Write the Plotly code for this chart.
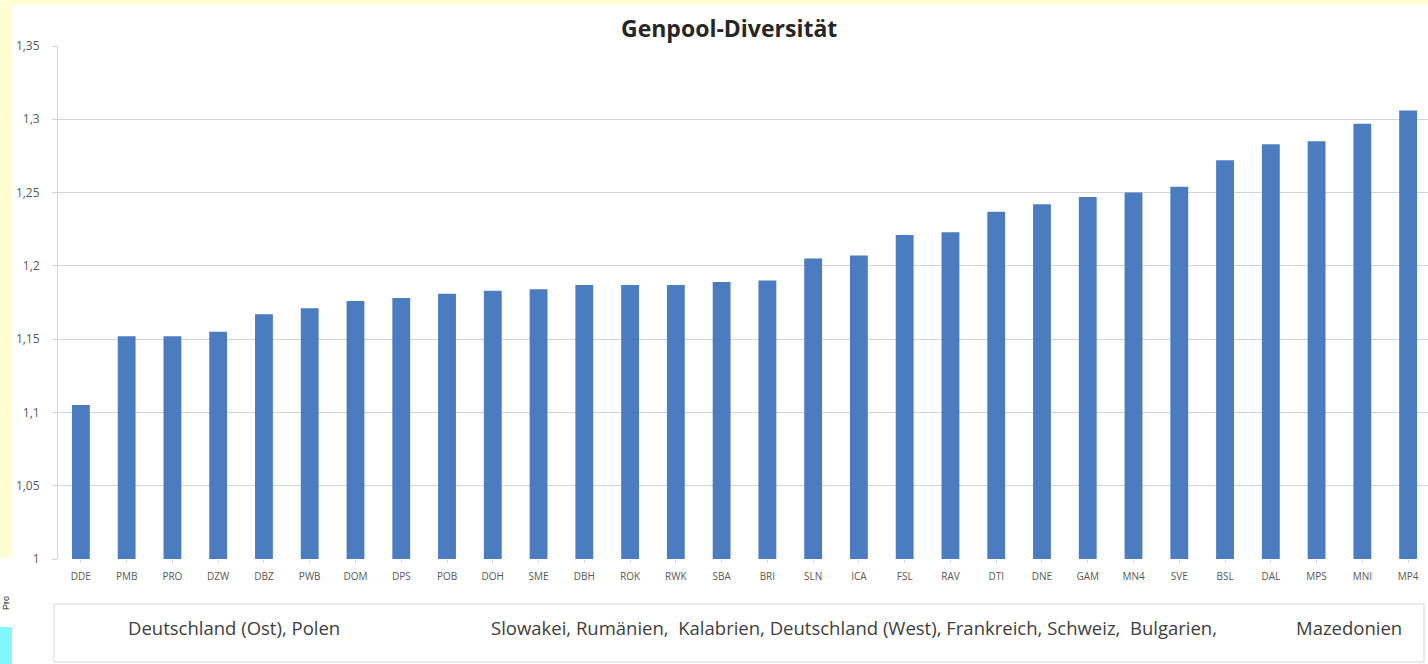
import plotly.graph_objects as go

# Gene-pool diversity per breeding population
populations = ["DDE", "PMB", "PRO", "DZW", "DBZ", "PWB", "DOM", "DPS", "POB", "DOH",
               "SME", "DBH", "ROK", "RWK", "SBA", "BRI", "SLN", "ICA", "FSL", "RAV",
               "DTI", "DNE", "GAM", "MN4", "SVE", "BSL", "DAL", "MPS", "MNI", "MP4"]
diversity = [1.105, 1.152, 1.152, 1.155, 1.167, 1.171, 1.176, 1.178, 1.181, 1.183,
             1.184, 1.187, 1.187, 1.187, 1.189, 1.190, 1.205, 1.207, 1.221, 1.223,
             1.237, 1.242, 1.247, 1.250, 1.254, 1.272, 1.283, 1.285, 1.297, 1.306]
y_ticks = [1.0, 1.05, 1.1, 1.15, 1.2, 1.25, 1.3, 1.35]
region_labels = ["Deutschland (Ost), Polen",
                 "Slowakei, Rumänien,  Kalabrien, Deutschland (West), Frankreich, Schweiz,  Bulgarien,",
                 "Mazedonien"]

W, H = 1428, 664
PL, PR, PT, PB = 58, 1428, 46, 559  # plot area in pixels


def px(x):
    return (x - PL) / (PR - PL)


def py(y):
    return (PB - y) / (PB - PT)


BAR = "#4a7cbf"
YELLOW = "#fffdd2"
FONT = "Open Sans"

fig = go.Figure(go.Bar(
    x=list(range(len(populations))), y=diversity,
    marker=dict(color=BAR, line=dict(width=0)),
    width=0.39,
))

step = (PR - PL + 3) / len(populations)
x_max = -0.5 + (PR - PL) / step

shapes = [
    # white chart sheet over the yellow page
    dict(type="rect", xref="paper", yref="paper", x0=px(12), x1=px(1428), y0=py(664), y1=py(5),
         fillcolor="white", line=dict(width=0), layer="below"),
    dict(type="rect", xref="paper", yref="paper", x0=px(0), x1=px(12), y0=py(627), y1=py(557),
         fillcolor="white", line=dict(width=0), layer="below"),
    dict(type="rect", xref="paper", yref="paper", x0=px(0), x1=px(12), y0=py(664), y1=py(627),
         fillcolor="#80f6ff", line=dict(width=0), layer="below"),
    # region label box
    dict(type="rect", xref="paper", yref="paper", x0=px(54), x1=px(1424), y0=py(662), y1=py(604),
         fillcolor="white", line=dict(color="#d6d6d6", width=1)),
]

label_font = dict(family=FONT, size=18.5, color="#404040")
annotations = [
    dict(text="<b>Genpool-Diversität</b>", xref="paper", yref="paper", x=px(729), y=py(28),
         showarrow=False, font=dict(family=FONT, size=23, color="#262626"),
         xanchor="center", yanchor="middle"),
    dict(text=region_labels[0], xref="paper", yref="paper", x=px(126), y=py(627),
         showarrow=False, font=label_font, xanchor="left", yanchor="middle"),
    dict(text=region_labels[1], xref="paper", yref="paper", x=px(489), y=py(627),
         showarrow=False, font=label_font, xanchor="left", yanchor="middle"),
    dict(text=region_labels[2], xref="paper", yref="paper", x=px(1294), y=py(627),
         showarrow=False, font=label_font, xanchor="left", yanchor="middle"),
    dict(text="Pro", xref="paper", yref="paper", x=px(6), y=py(603), textangle=-90,
         showarrow=False, font=dict(family="Liberation Sans", size=9, color="#222222"),
         xanchor="center", yanchor="middle"),
]

fig.update_layout(
    width=W, height=H,
    margin=dict(l=PL, r=W - PR, t=PT, b=H - PB, pad=0),
    paper_bgcolor=YELLOW, plot_bgcolor="white",
    separators=",.",
    showlegend=False,
    bargap=0.61,
    shapes=shapes,
    annotations=annotations,
    xaxis=dict(
        range=[-0.5, x_max], tickmode="array",
        tickvals=list(range(len(populations))), ticktext=populations,
        showgrid=False, zeroline=False, showline=False,
        ticks="outside", tickson="boundaries", ticklen=3, tickcolor="#e0d8c8",
        ticklabelstandoff=5,
        tickfont=dict(family=FONT, size=10, color="#595959"),
    ),
    yaxis=dict(
        range=[1.0, 1.35], tickvals=y_ticks,
        showgrid=True, gridcolor="#d4d4d4", gridwidth=1,
        zeroline=False, showline=True, linecolor="#d4d4d4", linewidth=1,
        ticks="outside", ticklen=5, tickcolor="#d4d4d4",
        ticklabelstandoff=10,
        tickfont=dict(family=FONT, size=12, color="#595959"),
    ),
)

fig.write_html("out.html")
